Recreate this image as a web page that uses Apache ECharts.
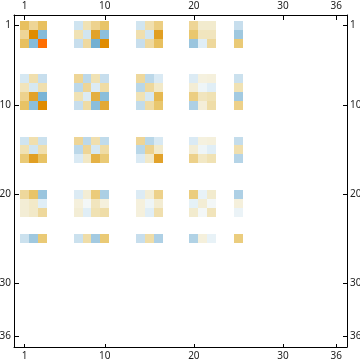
<!DOCTYPE html>
<html>
<head>
<meta charset="utf-8">
<style>
html, body { margin: 0; padding: 0; background: #fff; }
#cn { width: 360px; height: 363px; }
</style>
<script src="https://cdn.jsdelivr.net/npm/echarts@6/dist/echarts.min.js"></script>
</head>
<body>
<div id="cn"></div>
<script>
'use strict';

const tickValues = [1, 10, 20, 30, 36];
const blockIdx = [1, 2, 3, 7, 8, 9, 10, 14, 15, 16, 20, 21, 22, 25];

// 値は -1..1 (色から読み取り)
const row1 = [.45, .3, .45, -.18, .2, .32, .42, -.17, .22, .35, .3, .12, .12, -.22];
const row2 = [.3, .8, -.5, .2, -.17, .62, -.47, .22, -.17, .65, .4, .17, .17, -.4];
const row3 = [.45, -.5, 1, -.22, .27, -.58, .8, -.22, .27, .45, -.42, -.1, .28, .38];
const row7 = [-.15, .22, -.22, .3, -.27, .2, -.22, .28, -.27, -.13, -.12, .07, .08, -.2];
const row8 = [.18, -.15, .22, -.27, .3, -.12, .25, -.28, .28, .14, .1, -.05, -.1, .2];
const row9 = [.32, .62, -.55, .2, -.12, .55, -.48, .2, -.15, .5, .35, .17, .2, -.38];
const row10 = [.43, -.47, .8, -.22, .25, -.48, .58, -.24, .25, .4, -.33, .09, .24, .33];
const row14 = [-.18, .22, -.2, .3, -.27, .22, -.25, .3, -.28, -.14, -.13, .07, .08, -.23];
const row15 = [.2, -.17, .22, -.27, .3, -.15, .25, -.28, .32, .13, .1, -.05, -.1, .22];
const row16 = [.38, .65, .43, -.13, .15, .53, .38, -.13, .14, .62, .33, .15, .2, -.3];
const row20 = [.28, .42, -.42, -.12, .1, .37, -.34, -.12, .1, .33, .36, -.07, .12, -.33];
const row21 = [.1, .14, -.1, .08, -.03, .17, .08, .08, -.05, .11, -.08, .1, -.03, .08];
const row22 = [.1, .14, .28, .1, -.1, .2, .24, .08, -.1, .22, .12, -.03, .18, -.06];
const row25 = [-.2, -.4, .38, -.2, .24, -.38, .38, -.22, .24, -.33, -.32, .08, -.07, .36];
const arrRows = [row1, row2, row3, row7, row8, row9, row10, row14, row15, row16, row20, row21, row22, row25];

const arrColor = [
    '#3f8fc0', '#4a96c4', '#5599c8', '#60a3cc', '#6eadd0', '#85bbd9', '#9fc8df',
    '#b5d4e7', '#cbe1ee', '#e0eef6', '#fbfbf8', '#f3edd5', '#f0e2b4', '#eed596',
    '#e9c76e', '#e6b850', '#e2a52e', '#e09818', '#e08c00', '#ef7d00', '#ff6e00'
];

const arrData = [];
arrRows.forEach((row, i) => {
    row.forEach((v, j) => {
        arrData.push([blockIdx[j], blockIdx[i], v]);
    });
});

const strFont = '"Noto Sans", sans-serif';

function makeAxis(position, tickLen, margin) {
    return {
        type: 'value',
        position: position,
        min: -0.2,
        max: 37.2,
        inverse: position === 'left' || position === 'right',
        splitLine: { show: false },
        axisLine: { show: true, onZero: false, lineStyle: { color: '#000', width: 1 } },
        axisTick: {
            show: true,
            inside: true,
            length: tickLen,
            customValues: tickValues,
            lineStyle: { color: '#000', width: 1 }
        },
        axisLabel: {
            show: true,
            customValues: tickValues,
            margin: margin,
            color: '#222',
            fontFamily: strFont,
            fontSize: 10,
            hideOverlap: false
        }
    };
}

const chart = echarts.init(document.getElementById('cn'), null, { renderer: 'canvas' });

chart.setOption({
    animation: false,
    backgroundColor: '#fff',
    grid: { left: 14, top: 15, width: 333, height: 332, containLabel: false, outerBoundsMode: 'none' },
    xAxis: [makeAxis('top', 5, 4), makeAxis('bottom', 3, 4)],
    yAxis: [makeAxis('left', 5, 3), makeAxis('right', 4, 3)],
    visualMap: {
        show: false,
        dimension: 2,
        seriesIndex: 0,
        min: -1,
        max: 1,
        inRange: { color: arrColor }
    },
    series: [{
        type: 'custom',
        xAxisIndex: 0,
        yAxisIndex: 0,
        encode: { x: 0, y: 1 },
        renderItem: (params, api) => {
            const a = api.coord([api.value(0) - 0.5, api.value(1) - 0.5]);
            const b = api.coord([api.value(0) + 0.5, api.value(1) + 0.5]);
            const x0 = Math.round(a[0]);
            const y0 = Math.round(a[1]);
            return {
                type: 'rect',
                shape: { x: x0, y: y0, width: Math.round(b[0]) - x0, height: Math.round(b[1]) - y0 },
                style: { fill: api.visual('color') }
            };
        },
        data: arrData
    }]
});
</script>
</body>
</html>
